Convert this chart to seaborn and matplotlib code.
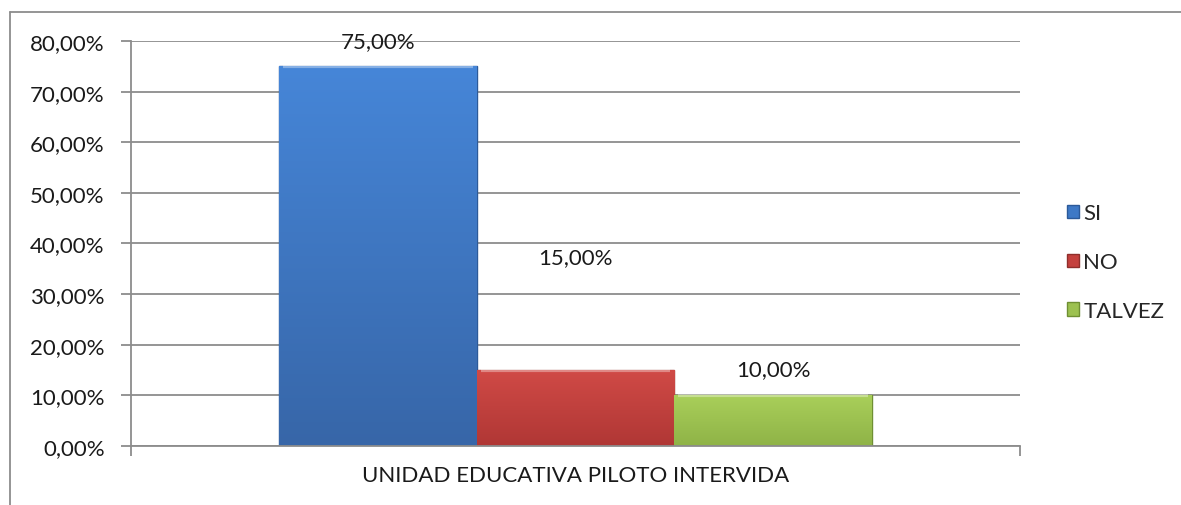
import matplotlib
matplotlib.use('Agg')
import matplotlib.pyplot as plt
import numpy as np
import pandas as pd
import seaborn as sns
from matplotlib.colors import LinearSegmentedColormap
from matplotlib.lines import Line2D
from matplotlib.ticker import FuncFormatter

category = ['UNIDAD EDUCATIVA PILOTO INTERVIDA']
series = ['SI', 'NO', 'TALVEZ']
values = [0.75, 0.15, 0.10]
labels = ['75,00%', '15,00%', '10,00%']

colors = ['#3e79c6', '#c4403d', '#9cc150']
tops = ['#4686d8', '#d04a46', '#a9cf5a']
bottoms = ['#3766a8', '#b03735', '#8fb347']
edges = ['#2c5a99', '#8f2e2b', '#6f8f33']
label_offsets = [18, 81, 19]  # points from bar top to label centre

df = pd.DataFrame({'grupo': category * len(series), 'serie': series, 'valor': values})

sns.set_style('white')
plt.rcParams['font.family'] = ['Lato', 'DejaVu Sans']

fig = plt.figure(figsize=(11.81, 5.06), dpi=100)
ax = fig.add_axes([0.1109, 0.1166, 0.8637 - 0.1109, 0.917 - 0.1166])

sns.barplot(data=df, x='grupo', y='valor', hue='serie', hue_order=series,
            palette=colors, width=0.667, ax=ax, saturation=1, legend=True)

# vertical gradient inside each bar
grad = np.linspace(0, 1, 256).reshape(-1, 1)
for bar, ec, c0, c1 in zip(ax.patches, edges, bottoms, tops):
    bar.set_edgecolor(ec)
    bar.set_linewidth(1.0)
    x0, w, h = bar.get_x(), bar.get_width(), bar.get_height()
    cmap = LinearSegmentedColormap.from_list('g', [c0, c1])
    im = ax.imshow(grad, cmap=cmap, aspect='auto', origin='lower',
                   extent=(x0, x0 + w, 0, h), zorder=bar.get_zorder() + 0.1)
    im.set_clip_path(bar)
    # light strip along the top edge
    ax.plot([x0 + w * 0.02, x0 + w * 0.98], [h, h], color='white', alpha=0.35,
            lw=3, solid_capstyle='butt', zorder=bar.get_zorder() + 0.2,
            clip_path=bar)

for bar, txt, off in zip(ax.patches, labels, label_offsets):
    ax.annotate(txt, (bar.get_x() + bar.get_width() / 2, bar.get_height()),
                xytext=(0, off), textcoords='offset points',
                ha='center', va='center', fontsize=16, color='#1a1a1a')

ax.set_ylim(0, 0.8)
ax.set_xlim(-0.5, 0.5)
ax.set_yticks(np.arange(0, 0.81, 0.1))
ax.yaxis.set_major_formatter(FuncFormatter(lambda v, p: f'{v*100:.2f}%'.replace('.', ',')))
ax.yaxis.grid(True, color='#8c8c8c', linewidth=1.3)
ax.set_axisbelow(True)
ax.set_xlabel('')
ax.set_ylabel('')

for s in ['top', 'right']:
    ax.spines[s].set_visible(False)
for s in ['left', 'bottom']:
    ax.spines[s].set_color('#8c8c8c')
    ax.spines[s].set_linewidth(1.3)

ax.tick_params(axis='y', length=7, color='#8c8c8c', width=1.3, labelsize=16,
               labelcolor='#1a1a1a', pad=12, left=True)
ax.tick_params(axis='x', length=0, labelsize=16, labelcolor='#1a1a1a', pad=14)
ax.set_xticks([-0.5, 0.5], minor=True)
ax.tick_params(axis='x', which='minor', length=7, color='#8c8c8c', width=1.3, bottom=True)

leg = ax.legend(loc='center left', bbox_to_anchor=(1.03, 0.454), frameon=False,
                fontsize=16, handlelength=0.55, handleheight=0.55, handletextpad=0.2,
                labelspacing=1.3)
for h, ec in zip(leg.legend_handles, edges):
    h.set_edgecolor(ec)

# outer chart border
fig.add_artist(Line2D([10 / 1181, 1.0], [1 - 12.5 / 506] * 2, color='#8c8c8c', lw=1.3))
fig.add_artist(Line2D([10 / 1181] * 2, [0, 1 - 12.5 / 506], color='#8c8c8c', lw=1.3))

fig.savefig('out.png', dpi=100)
